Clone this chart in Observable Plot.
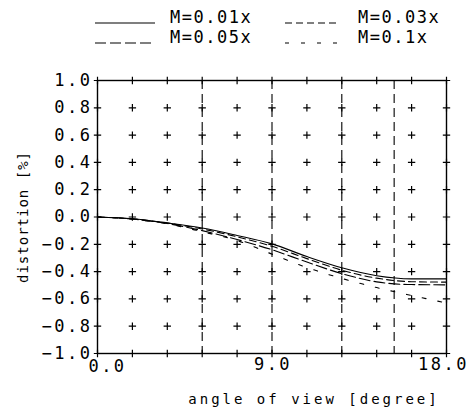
<!DOCTYPE html>
<html><head><meta charset="utf-8">
<script src="https://cdn.jsdelivr.net/npm/d3@7"></script>
<script src="https://cdn.jsdelivr.net/npm/@observablehq/plot@0.6"></script>
<style>
body{margin:0;background:#fff;font-family:"DejaVu Sans Mono",monospace;}
#legend{width:475px;height:55px;display:block;}
#chart svg{display:block;}
</style></head><body>
<svg id="legend" width="475" height="55"></svg>
<div id="chart"></div>
<script>
// ---- data ----
const angles = [0, 1.8, 3.6, 5.4, 7.2, 9.0, 10.8, 12.6, 14.4, 16.2, 18.0];
const m001 = [0, -0.013, -0.043, -0.080, -0.135, -0.197, -0.290, -0.372, -0.430, -0.453, -0.453];
const m003 = [0, -0.014, -0.045, -0.088, -0.145, -0.215, -0.305, -0.390, -0.448, -0.474, -0.477];
const m005 = [0, -0.015, -0.048, -0.100, -0.165, -0.240, -0.330, -0.415, -0.475, -0.495, -0.497];
const m01  = [0, -0.016, -0.050, -0.108, -0.172, -0.272, -0.370, -0.450, -0.517, -0.575, -0.630];
const seriesLabels = ["M=0.01x", "M=0.03x", "M=0.05x", "M=0.1x"];
const fieldMarks = [5.4, 9.0, 12.6, 15.3];
const xTicks = [0, 1.8, 3.6, 5.4, 7.2, 9.0, 10.8, 12.6, 14.4, 16.2, 18.0];
const xTickLabels = [0, 9, 18];
const yTicks = [-1.0, -0.8, -0.6, -0.4, -0.2, 0.0, 0.2, 0.4, 0.6, 0.8, 1.0];
const xTitle = "angle of view [degree]";
const yTitle = "distortion [%]";

const seriesValues = [m001, m003, m005, m01];
const dashes = [null, "7,4", "11,4", "4,12"];
const rows = seriesValues.flatMap((vals, i) => vals.map((v, j) => ({x: angles[j], y: v, s: seriesLabels[i]})));
const grid = xTicks.flatMap(x => yTicks.map(y => ({x, y})));

const lineMarks = seriesLabels.map((lab, i) =>
  Plot.line(rows.filter(d => d.s === lab), {x: "x", y: "y", stroke: "black", strokeWidth: 1.1,
    curve: "monotone-x", strokeDasharray: dashes[i]}));

const fmt = d => d.toFixed(1).replace("-", "\u2212");

const chart = Plot.plot({
  width: 475, height: 355,
  marginTop: 25, marginBottom: 57, marginLeft: 97, marginRight: 29,
  style: {fontFamily: "DejaVu Sans Mono, monospace", fontSize: "17px", color: "black", background: "white", letterSpacing: "2.5px"},
  x: {domain: [0, 18], axis: null},
  y: {domain: [-1, 1], axis: null},
  marks: [
    Plot.ruleX(fieldMarks, {stroke: "black", strokeWidth: 1.1, strokeDasharray: "9,5"}),
    Plot.dot(grid, {x: "x", y: "y", symbol: "plus", r: 2.5, stroke: "black", strokeWidth: 1.2}),
    ...lineMarks,
    Plot.frame({stroke: "black", strokeWidth: 1.4}),
    Plot.text(yTicks, {x: 0, y: d => d, text: fmt, textAnchor: "end", dx: -5, fontSize: 17}),
    Plot.text(xTickLabels.filter(d => d === 0), {x: d => d, y: -1, text: fmt, dy: 13, dx: 10, fontSize: 17}),
    Plot.text(xTickLabels.filter(d => d === 9), {x: d => d, y: -1, text: fmt, dy: 11, dx: 1, fontSize: 17}),
    Plot.text(xTickLabels.filter(d => d === 18), {x: d => d, y: -1, text: fmt, dy: 11, dx: -3, fontSize: 17}),
    Plot.text([xTitle], {frameAnchor: "bottom", dy: 50, dx: 42, fontSize: 14}),
    Plot.text([yTitle], {frameAnchor: "left", textAnchor: "middle", dx: -74, rotate: -90, fontSize: 14})
  ]
});
document.getElementById("chart").appendChild(chart);

d3.select(chart).selectAll("text").each(function() {
  const t = this.textContent;
  if (t === xTitle) d3.select(this).style("letter-spacing", "3px");
  else if (t === yTitle) d3.select(this).style("letter-spacing", "1px");
});

// ---- legend ----
const lg = d3.select("#legend");
const pos = [[95, 155, 170, 23], [285, 340, 358, 23], [95, 155, 170, 43], [285, 340, 358, 43]];
seriesLabels.forEach((lab, i) => {
  const [x1, x2, tx, y] = pos[i];
  lg.append("line").attr("x1", x1).attr("x2", x2).attr("y1", y).attr("y2", y)
    .attr("stroke", "black").attr("stroke-width", 1.1).attr("stroke-dasharray", dashes[i]);
  lg.append("text").attr("x", tx).attr("y", y).text(lab)
    .attr("font-family", "DejaVu Sans Mono, monospace").attr("font-size", 17)
    .style("letter-spacing", "1.5px");
});
</script>
</body></html>
